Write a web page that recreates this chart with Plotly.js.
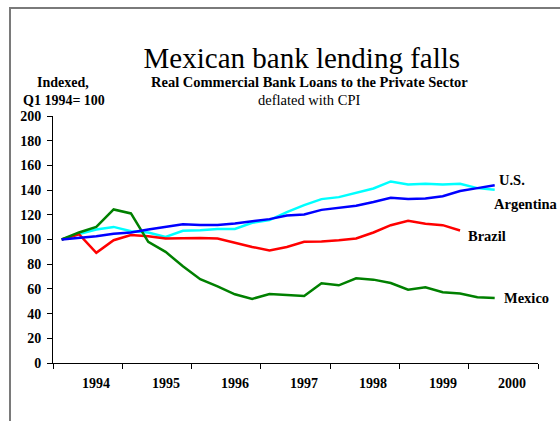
<!DOCTYPE html>
<html>
<head>
<meta charset="utf-8">
<script src="https://cdn.plot.ly/plotly-3.0.1.min.js"></script>
<style>
  html, body { margin: 0; padding: 0; background: #ffffff; }
  #wrap { position: relative; width: 560px; height: 421px; overflow: hidden; }
  #chart { position: absolute; left: 0; top: 0; width: 560px; height: 421px; }
  #frame { position: absolute; left: 9px; top: 7px; width: 560px; height: 430px;
           border-left: 2px solid #7a7a7a; border-top: 2px solid #7a7a7a; pointer-events: none; }
</style>
</head>
<body>
<div id="wrap">
  <div id="chart"></div>
  <div id="frame"></div>
</div>
<script>
// Quarterly index of real commercial bank loans to the private sector, Q1 1994 = 100
const years = ['1994', '1995', '1996', '1997', '1998', '1999', '2000'];
const quarters = ['94Q1','94Q2','94Q3','94Q4','95Q1','95Q2','95Q3','95Q4','96Q1','96Q2','96Q3','96Q4',
                  '97Q1','97Q2','97Q3','97Q4','98Q1','98Q2','98Q3','98Q4','99Q1','99Q2','99Q3','99Q4',
                  '00Q1','00Q2'];
const usLoans = [100, 101.3, 102.7, 104.6, 105.7, 108.1, 110.5, 112.4, 111.8, 111.8, 113, 114.8, 116.5,
                 119.4, 120.2, 124, 125.7, 127.3, 130.3, 133.8, 132.7, 133.2, 135.1, 139.2, 141.6, 144];
const argentinaLoans = [100, 104.5, 108.1, 110.2, 106.7, 105.7, 102.1, 107, 107.5, 108.6, 108.6, 113.5, 115.7,
                        122.1, 127.8, 132.7, 134.3, 138.1, 141.3, 147, 144.6, 145.1, 144.6, 145.1, 141.6, 140.2];
const brazilLoans = [100, 104.3, 89.2, 99.4, 103.7, 102.7, 100.8, 101.3, 101.3, 100.8, 97.3, 94, 91.2,
                     94, 98.1, 98.3, 99.3, 100.8, 105.7, 111.6, 115.1, 112.7, 111.6, 107.3];
const mexicoLoans = [100, 105.7, 110.2, 124.3, 121.1, 98.1, 90, 78.3, 67.8, 62.1, 55.6, 51.9, 55.9,
                     54.8, 54.3, 64.6, 62.9, 68.6, 67.5, 64.8, 59.4, 61.3, 57.3, 56.2, 53.2, 52.7];

const SERIF = '"Liberation Serif", "Times New Roman", Times, serif';

// each quarter sits in the middle of its slot on a numeric axis (4 slots per year)
const xPos = arr => arr.map((_, i) => i + 0.5);

const series = [
  { name: 'Argentina', y: argentinaLoans, color: '#00ffff', dx: -3, dy: -14 },
  { name: 'Brazil',    y: brazilLoans,    color: '#ff0000', dx: 6,  dy: -6 },
  { name: 'Mexico',    y: mexicoLoans,    color: '#008000', dx: 7,  dy: 0 },
  { name: 'U.S.',      y: usLoans,        color: '#0000ff', dx: 2,  dy: 5 }
];

const traces = series.map(s => ({
  type: 'scatter',
  mode: 'lines',
  name: s.name,
  x: xPos(s.y),
  y: s.y,
  text: quarters.slice(0, s.y.length),
  line: { color: s.color, width: 2.5 },
  hoverinfo: 'text+y'
}));

// series names placed just past each line's final point
const endLabels = series.map(s => ({
  x: s.y.length - 0.5,
  y: s.y[s.y.length - 1],
  xref: 'x', yref: 'y',
  text: '<b>' + s.name + '</b>',
  showarrow: false,
  xanchor: 'left', yanchor: 'middle',
  xshift: s.dx, yshift: s.dy,
  font: { family: SERIF, size: 14.5, color: '#000000' }
}));

// year names centred inside each year's span
const yearLabels = years.map((yr, k) => ({
  x: 4 * k + 2.5,
  y: -0.085,
  xref: 'x', yref: 'paper',
  text: '<b>' + yr + '</b>',
  showarrow: false,
  xanchor: 'center', yanchor: 'middle',
  font: { family: SERIF, size: 14, color: '#000000' }
}));

const headerNotes = [
  { x: 0.528, y: 1.138, text: '<b>Real Commercial Bank Loans to the Private Sector</b>', size: 14.5 },
  { x: 0.528, y: 1.065, text: 'deflated with CPI', size: 14.5 },
  { x: 0.02,  y: 1.134, text: '<b>Indexed,</b>', size: 14 },
  { x: 0.022, y: 1.063, text: '<b>Q1 1994= 100</b>', size: 14 }
].map(a => ({
  x: a.x, y: a.y, text: a.text,
  xref: 'paper', yref: 'paper',
  showarrow: false,
  xanchor: 'center', yanchor: 'middle',
  font: { family: SERIF, size: a.size, color: '#000000' }
}));

const layout = {
  width: 560,
  height: 421,
  margin: { l: 53, r: 22, t: 116, b: 58, pad: 0 },
  paper_bgcolor: 'rgba(0,0,0,0)',
  plot_bgcolor: 'rgba(0,0,0,0)',
  showlegend: false,
  title: {
    text: 'Mexican bank lending falls',
    x: 0.539, xref: 'container', xanchor: 'center',
    y: 0.863, yref: 'container', yanchor: 'middle',
    font: { family: SERIF, size: 29, color: '#000000' }
  },
  xaxis: {
    range: [0, 28],
    tickvals: years.map((_, k) => 4 * k).concat([28]),
    ticktext: years.map(() => '').concat(['']),
    ticks: 'outside', ticklen: 5, tickwidth: 1, tickcolor: '#000000',
    showline: true, linecolor: '#000000', linewidth: 1,
    showgrid: false, zeroline: false, fixedrange: true
  },
  yaxis: {
    range: [0, 200],
    tickvals: [0, 20, 40, 60, 80, 100, 120, 140, 160, 180, 200],
    ticktext: ['<b>0</b>', '<b>20</b>', '<b>40</b>', '<b>60</b>', '<b>80</b>', '<b>100</b>',
               '<b>120</b>', '<b>140</b>', '<b>160</b>', '<b>180</b>', '<b>200</b>'],
    ticks: 'outside', ticklen: 5, tickwidth: 1, tickcolor: '#000000',
    ticklabelstandoff: 3,
    tickfont: { family: SERIF, size: 14, color: '#000000' },
    showline: true, linecolor: '#000000', linewidth: 1,
    showgrid: false, zeroline: false, fixedrange: true
  },
  annotations: endLabels.concat(yearLabels, headerNotes)
};

Plotly.newPlot('chart', traces, layout, { displayModeBar: false, staticPlot: true });
</script>
</body>
</html>
